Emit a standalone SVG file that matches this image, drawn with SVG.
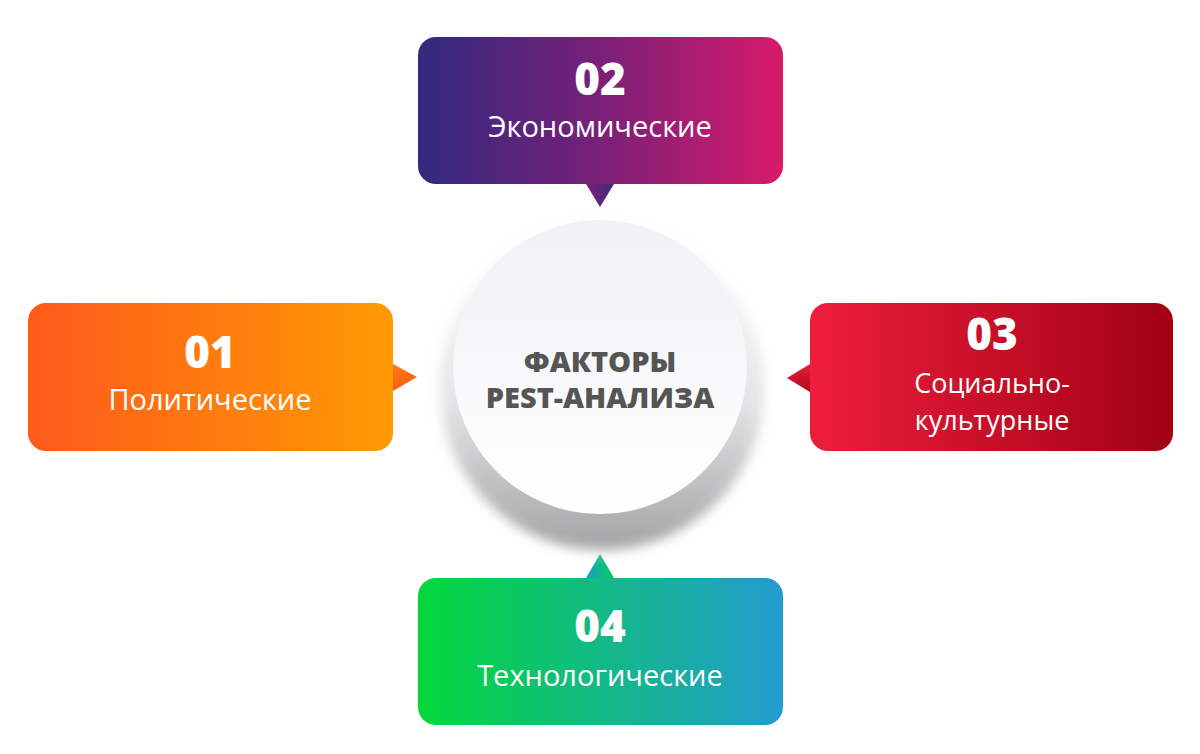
<svg xmlns="http://www.w3.org/2000/svg" width="1200" height="754" viewBox="0 0 1200 754">
<defs>
<linearGradient id="gTop" x1="0" y1="0" x2="1" y2="0"><stop offset="0" stop-color="#302a7e"/><stop offset="0.5" stop-color="#7a2078"/><stop offset="1" stop-color="#d81a6a"/></linearGradient>
<linearGradient id="gLeft" x1="0" y1="0" x2="1" y2="0"><stop offset="0" stop-color="#ff5a1a"/><stop offset="1" stop-color="#ff9a02"/></linearGradient>
<linearGradient id="gRight" x1="0" y1="0" x2="1" y2="0"><stop offset="0" stop-color="#ee1e3c"/><stop offset="1" stop-color="#a10114"/></linearGradient>
<linearGradient id="gBot" x1="0" y1="0" x2="1" y2="0"><stop offset="0" stop-color="#02d83a"/><stop offset="1" stop-color="#239bd0"/></linearGradient>
<linearGradient id="pTop" x1="0" y1="0" x2="1" y2="0"><stop offset="0" stop-color="#7a2078"/><stop offset="1" stop-color="#402a7e"/></linearGradient>
<linearGradient id="pLeft" x1="0" y1="0" x2="0" y2="1"><stop offset="0" stop-color="#ff7a10"/><stop offset="1" stop-color="#ff5a1a"/></linearGradient>
<linearGradient id="pRight" x1="0" y1="0" x2="0" y2="1"><stop offset="0" stop-color="#e81a38"/><stop offset="1" stop-color="#b00a1e"/></linearGradient>
<linearGradient id="pBot" x1="0" y1="0" x2="1" y2="0"><stop offset="0" stop-color="#1aa0c8"/><stop offset="1" stop-color="#08cc50"/></linearGradient>
<linearGradient id="shadowG" x1="0" y1="0" x2="0" y2="1"><stop offset="0" stop-color="#ffffff"/><stop offset="0.55" stop-color="#e2e2e4"/><stop offset="1" stop-color="#9a9a9c"/></linearGradient>
<linearGradient id="faceG" x1="0" y1="0" x2="0" y2="1"><stop offset="0" stop-color="#f1f1f6"/><stop offset="1" stop-color="#ffffff"/></linearGradient>
<radialGradient id="halo" cx="0.5" cy="0.5" r="0.5"><stop offset="0.8" stop-color="#f2f2f4"/><stop offset="1" stop-color="#ffffff" stop-opacity="0"/></radialGradient>
<filter id="blur" x="-20%" y="-20%" width="140%" height="140%"><feGaussianBlur stdDeviation="6"/></filter>
</defs>
<style>
.num{font-family:"Open Sans",Lato,"Liberation Sans",sans-serif;font-weight:800;font-size:44px;fill:#ffffff;text-anchor:middle}
.lbl{font-family:"Open Sans","Liberation Sans",sans-serif;font-weight:500;font-size:29px;fill:#ffffff;text-anchor:middle}
.lbl2{font-size:27px}
.ctr{font-family:"Open Sans","Liberation Sans",sans-serif;font-weight:800;font-size:29px;fill:#555555;text-anchor:middle}
</style>
<rect width="1200" height="754" fill="#ffffff"/>
<g id="connectors">
<polygon points="586,184 614,184 600,207" fill="url(#pTop)"/>
<polygon points="393,364 393,391 417,377" fill="url(#pLeft)"/>
<polygon points="810,364 810,392 787,378" fill="url(#pRight)"/>
<polygon points="586,578 614,578 600,554" fill="url(#pBot)"/>
</g>
<g id="center">
<circle cx="600" cy="385" r="180" fill="url(#halo)" opacity="0.6"/>
<circle cx="602" cy="388" r="162" fill="url(#shadowG)" filter="url(#blur)" opacity="0.9"/>
<circle cx="600" cy="367" r="147" fill="url(#faceG)"/>
<text class="ctr" x="600" y="372">ФАКТОРЫ</text>
<text class="ctr" x="600" y="408">PEST-АНАЛИЗА</text>
</g>
<g id="node-02">
<rect x="418" y="37" width="365" height="147" rx="18" fill="url(#gTop)"/>
<text class="num" x="600" y="95">02</text>
<text class="lbl" x="600" y="137">Экономические</text>
</g>
<g id="node-01">
<rect x="28" y="303" width="365" height="148" rx="18" fill="url(#gLeft)"/>
<text class="num" x="210" y="368">01</text>
<text class="lbl" x="210" y="410">Политические</text>
</g>
<g id="node-03">
<rect x="810" y="303" width="363" height="148" rx="18" fill="url(#gRight)"/>
<text class="num" x="992" y="350">03</text>
<text class="lbl lbl2" x="992" y="393">Социально-</text>
<text class="lbl lbl2" x="992" y="430">культурные</text>
</g>
<g id="node-04">
<rect x="418" y="578" width="365" height="147" rx="18" fill="url(#gBot)"/>
<text class="num" x="600" y="642">04</text>
<text class="lbl" x="600" y="686">Технологические</text>
</g>
</svg>
